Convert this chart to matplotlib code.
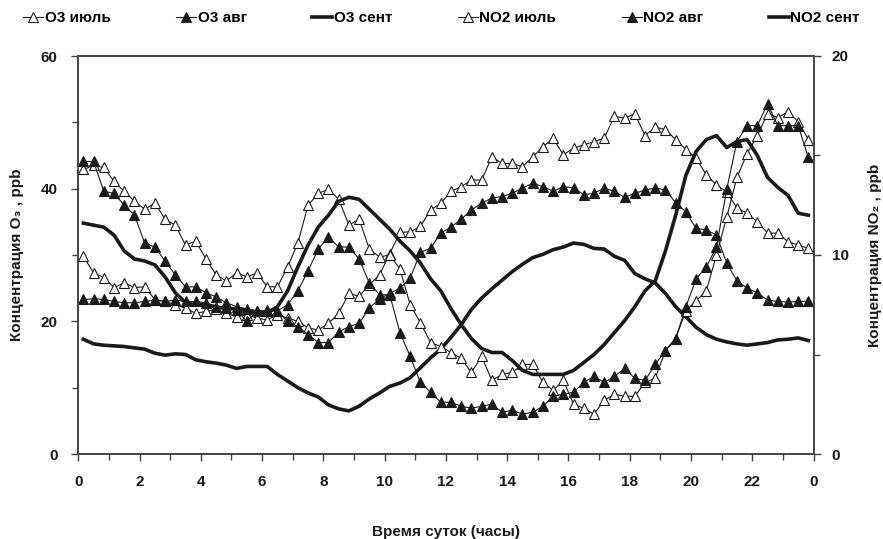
import numpy as np
import matplotlib
matplotlib.use('Agg')
import matplotlib.pyplot as plt
from matplotlib.ticker import MultipleLocator, FixedLocator, FixedFormatter

FAMILY = ['Liberation Sans Narrow', 'Liberation Sans', 'DejaVu Sans']
plt.rcParams['font.family'] = FAMILY
plt.rcParams['font.weight'] = 'bold'

# time of day, hours (20-minute means)
hours = 1.0 / 6 + np.arange(72) / 3.0

# O3, ppb (left axis)
o3_jul = [29.8, 27.3, 26.6, 25.1, 25.8, 25.1, 25.2, 23.3, 23.0, 22.5,
          22.0, 21.2, 21.5, 21.8, 21.2, 20.7, 21.0, 20.5, 20.2, 21.0,
          20.5, 20.0, 19.0, 18.7, 19.7, 21.2, 24.2, 23.8, 25.5, 27.0,
          30.2, 33.4, 33.5, 34.3, 36.8, 37.8, 39.6, 40.3, 41.3, 41.3,
          44.8, 43.8, 43.8, 43.3, 44.8, 46.3, 47.6, 45.1, 46.1, 46.6,
          47.1, 47.6, 50.9, 50.6, 51.3, 48.0, 49.3, 48.9, 47.4, 45.9,
          44.6, 42.1, 40.6, 39.5, 37.1, 36.3, 35.0, 33.3, 33.3, 32.0,
          31.5, 31.0]
o3_aug = [23.3, 23.4, 23.3, 23.0, 22.8, 22.8, 23.0, 23.2, 23.0, 23.2,
          23.0, 23.0, 22.8, 22.2, 22.0, 21.7, 20.0, 21.5, 21.7, 21.5,
          20.0, 19.2, 18.0, 16.8, 16.8, 18.4, 19.2, 19.7, 22.0, 23.4,
          24.2, 25.0, 26.5, 30.4, 31.0, 33.3, 34.2, 35.4, 36.8, 37.8,
          38.6, 38.8, 39.3, 40.1, 40.8, 40.3, 39.6, 40.3, 40.1, 39.1,
          39.3, 40.1, 39.6, 38.7, 39.3, 39.8, 40.1, 39.8, 37.9, 36.5,
          34.0, 33.8, 33.0, 28.8, 26.1, 25.0, 24.3, 23.2, 23.0, 22.9,
          23.0, 23.0]
o3_sep = [17.3, 16.6, 16.4, 16.3, 16.2, 16.0, 15.8, 15.2, 14.9, 15.1,
          15.0, 14.2, 13.9, 13.7, 13.4, 12.9, 13.2, 13.2, 13.2, 12.0,
          11.0, 10.0, 9.2, 8.6, 7.4, 6.8, 6.5, 7.2, 8.3, 9.2,
          10.2, 10.7, 11.5, 13.0, 14.5, 15.8, 17.6, 19.5, 21.8, 23.5,
          24.9, 26.2, 27.5, 28.6, 29.6, 30.1, 30.8, 31.2, 31.8, 31.6,
          31.0, 30.9, 29.8, 29.2, 27.2, 26.4, 25.8, 24.2, 22.2, 20.7,
          19.1, 18.0, 17.3, 16.9, 16.6, 16.4, 16.6, 16.8, 17.2, 17.3,
          17.5, 17.1]

# NO2, ppb (right axis)
no2_jul = [14.3, 14.5, 14.4, 13.7, 13.2, 12.7, 12.3, 12.6, 11.8, 11.5,
           10.5, 10.7, 9.8, 9.0, 8.7, 9.1, 8.9, 9.1, 8.4, 8.4,
           9.4, 10.6, 12.5, 13.1, 13.3, 12.8, 11.5, 11.8, 10.3, 9.9,
           10.0, 9.3, 7.5, 6.6, 5.6, 5.4, 5.1, 4.8, 4.1, 4.9,
           3.7, 4.0, 4.1, 4.5, 4.5, 3.6, 3.2, 3.7, 2.5, 2.3,
           2.0, 2.7, 3.0, 2.9, 2.9, 3.6, 3.8, 5.2, 5.8, 7.2,
           7.7, 8.2, 10.0, 11.9, 13.9, 15.1, 16.0, 17.1, 16.9, 17.2,
           16.7, 15.8]
no2_aug = [14.7, 14.7, 13.2, 13.1, 12.5, 12.0, 10.6, 10.4, 9.7, 9.0,
           8.4, 8.4, 8.1, 7.9, 7.6, 7.4, 7.3, 7.2, 7.2, 7.2,
           7.5, 8.2, 9.2, 10.3, 10.9, 10.4, 10.4, 9.8, 8.6, 8.0,
           8.0, 6.1, 4.9, 3.6, 3.1, 2.6, 2.6, 2.4, 2.3, 2.4,
           2.5, 2.1, 2.2, 2.0, 2.1, 2.4, 2.9, 3.0, 3.1, 3.6,
           3.9, 3.6, 3.9, 4.3, 3.8, 3.7, 4.5, 5.2, 5.8, 7.4,
           8.8, 9.4, 10.4, 13.3, 15.7, 16.5, 16.5, 17.6, 16.5, 16.5,
           16.5, 14.9]
no2_sep = [11.6, 11.5, 11.4, 11.0, 10.2, 9.8, 9.7, 9.5, 8.9, 8.1,
           7.6, 7.5, 7.5, 7.4, 7.3, 7.3, 7.2, 7.1, 7.1, 7.4,
           8.2, 9.4, 10.5, 11.4, 12.0, 12.7, 12.9, 12.8, 12.3, 11.8,
           11.3, 10.7, 10.2, 9.6, 8.8, 8.2, 7.3, 6.5, 5.8, 5.3,
           5.1, 5.1, 4.7, 4.2, 4.0, 4.0, 4.0, 4.0, 4.2, 4.6,
           5.0, 5.5, 6.1, 6.7, 7.4, 8.2, 8.7, 10.2, 12.0, 14.0,
           15.2, 15.8, 16.0, 15.4, 15.7, 15.8, 15.0, 13.9, 13.4, 13.0,
           12.1, 12.0]

x_ticks = list(range(0, 25, 2))
x_labels = [str(t % 24) for t in x_ticks]

INK = '#1a1a1a'
FS = 11

fig = plt.figure(figsize=(8.83, 5.39), dpi=100)
ax = fig.add_axes([78.3 / 883, 1 - 454 / 539, (813.5 - 78.3) / 883, (454 - 56) / 539])
ax2 = ax.twinx()

tri = dict(marker='^', markersize=7, markeredgewidth=0.8, markeredgecolor=INK,
           color=INK, linewidth=0.8)
h1, = ax.plot(hours, o3_jul, markerfacecolor='white', label='O3 июль', **tri)
h2, = ax.plot(hours, o3_aug, markerfacecolor=INK, label='O3 авг', **tri)
h3, = ax.plot(hours, o3_sep, color=INK, linewidth=2.6, label='O3 сент')
h4, = ax2.plot(hours, no2_jul, markerfacecolor='white', label='NO2 июль', **tri)
h5, = ax2.plot(hours, no2_aug, markerfacecolor=INK, label='NO2 авг', **tri)
h6, = ax2.plot(hours, no2_sep, color=INK, linewidth=2.6, label='NO2 сент')

ax.set_xlim(0, 24)
ax.set_ylim(0, 60)
ax2.set_ylim(0, 20)

ax.xaxis.set_major_locator(FixedLocator(x_ticks))
ax.xaxis.set_major_formatter(FixedFormatter(x_labels))
ax.xaxis.set_minor_locator(MultipleLocator(1))
ax.yaxis.set_major_locator(MultipleLocator(20))
ax.yaxis.set_minor_locator(MultipleLocator(10))
ax2.yaxis.set_major_locator(MultipleLocator(10))
ax2.yaxis.set_minor_locator(MultipleLocator(5))

for a in (ax, ax2):
    a.tick_params(which='both', direction='out', color='#444', width=1.0,
                  labelsize=FS, labelcolor=INK)
    a.tick_params(which='major', length=5)
    a.tick_params(which='minor', length=4)
    for s in a.spines.values():
        s.set_color('#444')
        s.set_linewidth(1.2)
ax.tick_params(axis='x', pad=10)
ax.tick_params(axis='y', pad=10)
ax2.tick_params(axis='y', pad=8)
for lab in ax.get_xticklabels() + ax.get_yticklabels() + ax2.get_yticklabels():
    lab.set_fontweight('bold')

ax.set_ylabel('Концентрация O₃ , ppb', fontsize=FS, fontweight='bold', color=INK, labelpad=12)
ax2.set_ylabel('Концентрация NO₂ , ppb', fontsize=FS, fontweight='bold', color=INK,
               rotation=90, labelpad=14)
ax.set_xlabel('Время суток (часы)', fontsize=FS, fontweight='bold', color=INK, labelpad=26)

fig.legend(handles=[h1, h2, h3, h4, h5, h6], loc='upper center', ncol=6,
           bbox_to_anchor=(0.5, 1.005), frameon=False, handlelength=1.3,
           handletextpad=0.1, columnspacing=4.3, numpoints=1,
           prop={'size': FS, 'weight': 'bold', 'family': FAMILY})

fig.savefig('out.png', dpi=100)
